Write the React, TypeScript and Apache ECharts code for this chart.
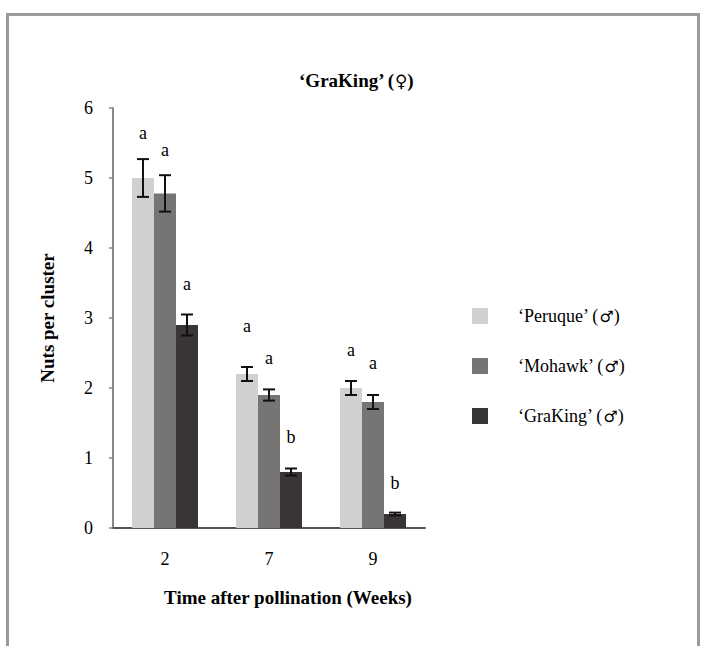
import React, { useEffect, useRef } from "react";
import * as echarts from "echarts";

const categories = ["2", "7", "9"];
const seriesNames = ["\u2018Peruque\u2019 (\u2642)", "\u2018Mohawk\u2019 (\u2642)", "\u2018GraKing\u2019 (\u2642)"];
const peruque = [5.0, 2.2, 2.0];
const mohawk = [4.78, 1.9, 1.8];
const graking = [2.9, 0.8, 0.2];
const peruqueErr = [0.27, 0.1, 0.1];
const mohawkErr = [0.26, 0.08, 0.1];
const grakingErr = [0.15, 0.05, 0.02];
const peruqueLetters = ["a", "a", "a"];
const mohawkLetters = ["a", "a", "a"];
const grakingLetters = ["a", "b", "b"];
const peruqueLetterY = [5.64, 2.88, 2.54];
const mohawkLetterY = [5.4, 2.43, 2.36];
const grakingLetterY = [3.49, 1.3, 0.64];
const yTicks = { min: 0, max: 6, interval: 1 };

const colors = ["#d0d0d0", "#777474", "#393535"];
const BAR_W = 22;
const FONT = "'Liberation Serif', 'Times New Roman', serif";
const SYM = "'DejaVu Sans', sans-serif";

function splitSymbol(name: string) {
  const i = name.lastIndexOf("(");
  const main = name.slice(0, i + 1);
  const sym = name.slice(i + 1, name.length - 1);
  return `{t|${main}}{s|${sym}}{t|)}`;
}

export default function App() {
  const ref = useRef<HTMLDivElement>(null);
  useEffect(() => {
    if (!ref.current) return;
    const chart = echarts.init(ref.current, null, { renderer: "svg" });
    const values = [peruque, mohawk, graking];
    const errs = [peruqueErr, mohawkErr, grakingErr];
    const letters = [peruqueLetters, mohawkLetters, grakingLetters];
    const letterY = [peruqueLetterY, mohawkLetterY, grakingLetterY];
    const errData: any[] = [];
    for (let s = 0; s < 3; s++) {
      for (let c = 0; c < categories.length; c++) {
        errData.push([c, values[s][c], errs[s][c], s, letterY[s][c]]);
      }
    }
    const option: any = {
      animation: false,
      backgroundColor: "#ffffff",
      title: {
        text: "{t|\u2018GraKing\u2019 (}{s|\u2640}{t|)}",
        left: 351,
        textAlign: "center",
        top: 66,
        textStyle: {
          rich: {
            t: { fontFamily: FONT, fontSize: 19, fontWeight: "bold", color: "#000" },
            s: { fontFamily: SYM, fontSize: 17, fontWeight: "normal", color: "#000" },
          },
        },
      },
      legend: {
        orient: "vertical",
        left: 467,
        top: 302,
        itemWidth: 16,
        itemHeight: 16,
        itemGap: 32,
        icon: "rect",
        data: seriesNames,
        formatter: (n: string) => splitSymbol(n),
        textStyle: {
          padding: [0, 0, 0, 25],
          rich: {
            t: { fontFamily: FONT, fontSize: 18, color: "#000" },
            s: { fontFamily: SYM, fontSize: 16, fontWeight: "normal", color: "#000" },
          },
        },
      },
      grid: { left: 113, right: 277, top: 108, bottom: 118 },
      xAxis: {
        type: "category",
        data: categories,
        axisLine: { lineStyle: { color: "#555", width: 2 } },
        axisTick: { show: false },
        axisLabel: { fontFamily: FONT, fontSize: 18, color: "#000", margin: 22 },
        name: "Time after pollination (Weeks)",
        nameLocation: "middle",
        nameGap: 60,
        nameTextStyle: { fontFamily: FONT, fontSize: 19, fontWeight: "bold", color: "#000", padding: [0, 0, 0, 38] },
      },
      yAxis: {
        type: "value",
        min: yTicks.min,
        max: yTicks.max,
        interval: yTicks.interval,
        splitLine: { show: false },
        axisLine: { show: true, lineStyle: { color: "#888", width: 2 } },
        axisTick: { show: true, length: 4, lineStyle: { color: "#888", width: 1.5 } },
        axisLabel: { fontFamily: FONT, fontSize: 18, color: "#000", margin: 20 },
        name: "Nuts per cluster",
        nameLocation: "middle",
        nameGap: 56,
        nameTextStyle: { fontFamily: FONT, fontSize: 19, fontWeight: "bold", color: "#000" },
      },
      graphic: [
        {
          type: "rect",
          left: 5,
          top: 12,
          shape: { width: 691, height: 700 },
          style: { fill: "none", stroke: "#9a9a9a", lineWidth: 3 },
          z: -10,
          silent: true,
        },
      ],
      series: [
        ...values.map((v, i) => ({
          name: seriesNames[i],
          type: "bar",
          data: v,
          barWidth: BAR_W,
          barGap: "0%",
          itemStyle: { color: colors[i] },
        })),
        {
          type: "custom",
          name: "errors",
          data: errData,
          z: 10,
          renderItem: (params: any, api: any) => {
            const c = api.value(0);
            const v = api.value(1);
            const e = api.value(2);
            const s = api.value(3);
            const ly = api.value(4);
            const cx = api.coord([c, 0])[0] + (s - 1) * BAR_W;
            const top = api.coord([c, v + e])[1];
            const bot = api.coord([c, v - e])[1];
            const ty = api.coord([c, ly])[1];
            const cap = 6;
            const st = { stroke: "#111", lineWidth: 2 };
            return {
              type: "group",
              children: [
                { type: "line", shape: { x1: cx, y1: top, x2: cx, y2: bot }, style: st },
                { type: "line", shape: { x1: cx - cap, y1: top, x2: cx + cap, y2: top }, style: st },
                { type: "line", shape: { x1: cx - cap, y1: bot, x2: cx + cap, y2: bot }, style: st },
                {
                  type: "text",
                  x: cx,
                  y: ty,
                  style: {
                    text: letters[s][c],
                    fontFamily: FONT,
                    fontSize: 18,
                    fill: "#000",
                    align: "center",
                    verticalAlign: "middle",
                  },
                },
              ],
            };
          },
        },
      ],
    };
    chart.setOption(option);
    return () => chart.dispose();
  }, []);
  return (
    <div
      ref={ref}
      style={{ position: "fixed", left: 0, top: 0, width: 702, height: 646, background: "#fff" }}
    />
  );
}
